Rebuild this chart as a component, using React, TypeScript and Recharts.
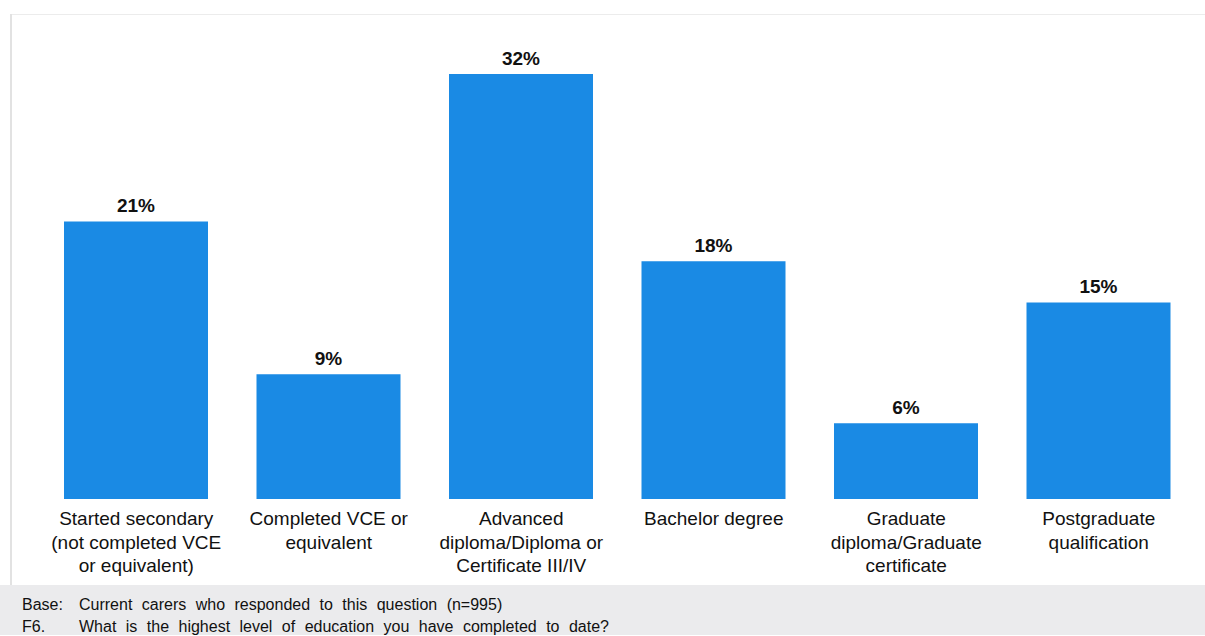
import { BarChart, Bar, XAxis, YAxis, LabelList } from 'recharts'

const categories = [
  'Started secondary\n(not completed VCE\nor equivalent)',
  'Completed VCE or\nequivalent',
  'Advanced\ndiploma/Diploma or\nCertificate III/IV',
  'Bachelor degree',
  'Graduate\ndiploma/Graduate\ncertificate',
  'Postgraduate\nqualification',
]

// percentages (labels are rounded)
const shares = [20.9, 9.4, 32, 17.9, 5.7, 14.8]

const footerKeys = ['Base:', 'F6.']
const footerTexts = [
  'Current carers who responded to this question (n=995)',
  'What is the highest level of education you have completed to date?',
]

const data = categories.map((name, i) => ({ name, value: shares[i] }))

const FONT = '"Liberation Sans", Arial, Helvetica, sans-serif'

function CategoryTick({ x, y, payload }: any) {
  const lines = String(payload.value).split('\n')
  return (
    <text x={x} y={y + 18} textAnchor="middle" fontSize={19} fill="#111" fontFamily={FONT}>
      {lines.map((l, i) => (
        <tspan key={i} x={x} dy={i === 0 ? 0 : 23.5}>
          {l}
        </tspan>
      ))}
    </text>
  )
}

export default function App() {
  return (
    <div style={{ position: 'absolute', left: 0, top: 0, width: 1205, height: 636, background: '#fff', fontFamily: FONT }}>
      {/* frame lines */}
      <div style={{ position: 'absolute', left: 10, top: 14, width: 1195, height: 1, background: '#ececec' }} />
      <div style={{ position: 'absolute', left: 10, top: 14, width: 2, height: 571, background: '#e2e2e2' }} />

      <div style={{ position: 'absolute', left: 0, top: 0 }}>
        <BarChart width={1205} height={585} data={data} margin={{ top: 74, right: 10, bottom: 6, left: 40 }}>
          <XAxis dataKey="name" axisLine={false} tickLine={false} interval={0} height={80} tick={<CategoryTick />} />
          <YAxis hide domain={[0, 32]} />
          <Bar dataKey="value" fill="#1a8ae4" barSize={144} isAnimationActive={false}>
            <LabelList
              dataKey="value"
              position="top"
              offset={9}
              formatter={(v: any) => `${Math.round(Number(v))}%`}
              style={{ fontSize: 19, fontWeight: 700, fill: '#111', fontFamily: FONT }}
            />
          </Bar>
        </BarChart>
      </div>

      {/* footer */}
      <div style={{ position: 'absolute', left: 0, top: 585, width: 1205, height: 50, background: '#ebebed' }}>
        {footerKeys.map((k, i) => (
          <div key={k} style={{ position: 'absolute', top: 9 + i * 22, left: 22, fontSize: 16, lineHeight: '22px', color: '#111', whiteSpace: 'nowrap' }}>
            <span style={{ position: 'absolute', left: 0 }}>{k}</span>
            <span style={{ position: 'absolute', left: 57, wordSpacing: 5 }}>{footerTexts[i]}</span>
          </div>
        ))}
      </div>
    </div>
  )
}
